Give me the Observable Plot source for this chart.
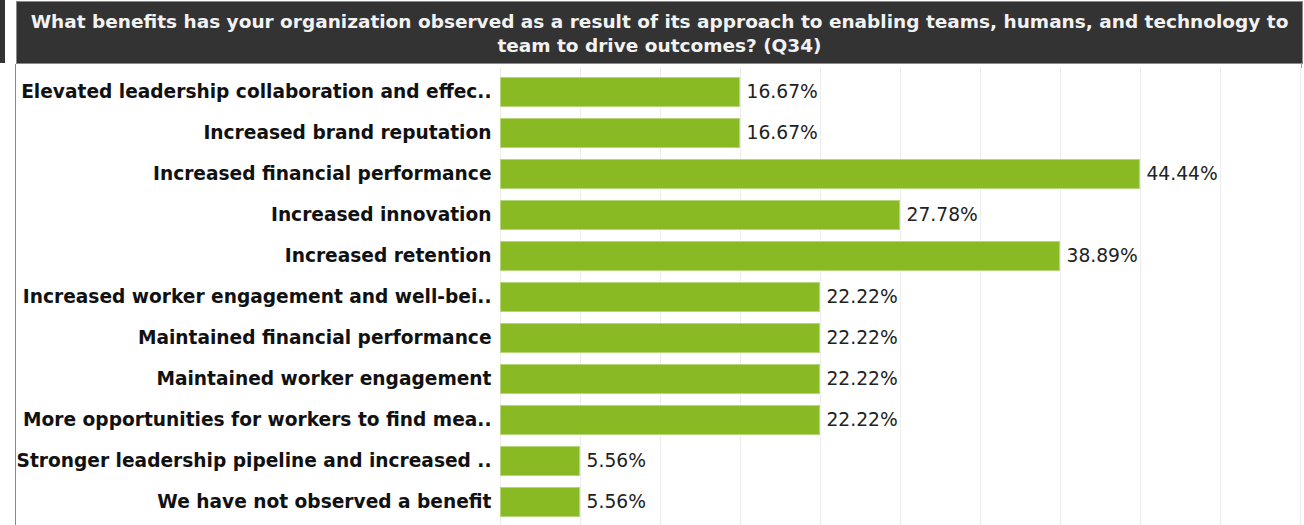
<!DOCTYPE html>
<html>
<head>
<meta charset="utf-8">
<script src="https://cdn.jsdelivr.net/npm/d3@7"></script>
<script src="https://cdn.jsdelivr.net/npm/@observablehq/plot@0.6"></script>
<style>
  html, body { margin: 0; padding: 0; background: #fff; width: 1304px; height: 525px; overflow: hidden; }
  body { position: relative; font-family: "DejaVu Sans", Verdana, sans-serif; }
  #strip { position: absolute; left: 0; top: 0; width: 5px; height: 63px; background: #333; }
  #header { position: absolute; left: 16px; top: 1px; width: 1285px; height: 61px; background: #333; border: 1px solid #8a8a8a;
            color: #f2f2f2; font-weight: bold; font-size: 18.5px; line-height: 24px; text-align: center;
            display: flex; align-items: center; justify-content: center; box-sizing: content-box; }
  #header span { display: block; padding: 3px 6px 0 6px; }
  #panel { position: absolute; left: 15px; top: 64px; width: 1287px; height: 461px; border-left: 1px solid #888; }
  #rborder { position: absolute; left: 1301px; top: 63px; width: 1px; height: 5px; background: #999; }
  #chart { position: absolute; left: 0; top: 64px; }
</style>
</head>
<body>
<div id="strip"></div>
<div id="header"><span id="title"></span></div>
<div id="panel"></div>
<div id="rborder"></div>
<div id="chart"></div>
<script>
const title = "What benefits has your organization observed as a result of its approach to enabling teams, humans, and technology to team to drive outcomes? (Q34)";
const categories = [
  "Elevated leadership collaboration and effec..",
  "Increased brand reputation",
  "Increased financial performance",
  "Increased innovation",
  "Increased retention",
  "Increased worker engagement and well-bei..",
  "Maintained financial performance",
  "Maintained worker engagement",
  "More opportunities for workers to find mea..",
  "Stronger leadership pipeline and increased ..",
  "We have not observed a benefit"
];
const values = [16.67, 16.67, 44.44, 27.78, 38.89, 22.22, 22.22, 22.22, 22.22, 5.56, 5.56];
const gridTicks = [0, 1, 2, 3, 4, 5, 6, 7, 8, 9, 10].map(k => k * 100 / 18);
const xMax = 10 * 100 / 18;

document.getElementById("title").textContent = title;

const data = categories.map((c, i) => ({category: c, value: values[i]}));

const chart = Plot.plot({
  width: 1304,
  height: 461,
  marginLeft: 500,
  marginRight: 4,
  marginTop: 4,
  marginBottom: 0,
  style: {fontFamily: "'DejaVu Sans', Verdana, sans-serif", background: "transparent", overflow: "visible"},
  x: {domain: [0, xMax], axis: null},
  y: {domain: categories, paddingInner: 0.28, paddingOuter: 0.14, label: null},
  marks: [
    Plot.ruleX(gridTicks, {stroke: "#ececec", strokeWidth: 1}),
    Plot.barX(data, {x: "value", y: "category", fill: "#89ba24", stroke: "#b5d77a", strokeWidth: 1, inset: 0.5}),
    Plot.text(data, {x: "value", y: "category", text: d => d.value.toFixed(2) + "%", textAnchor: "start", dx: 6, fontSize: 18.7, fill: "#222"}),
    Plot.axisY({tickSize: 0, tickPadding: 9, fontSize: 18.6, fontWeight: "bold", fill: "#111", label: null})
  ]
});
document.getElementById("chart").appendChild(chart);
</script>
</body>
</html>
